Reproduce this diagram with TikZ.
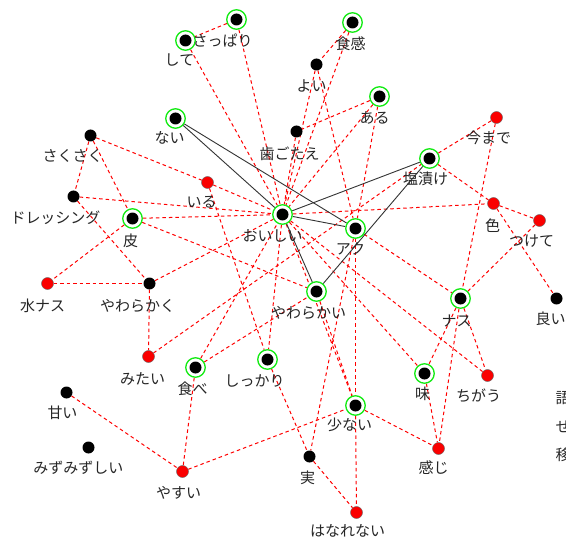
\documentclass[tikz,border=0pt]{standalone}
\usepackage{fontspec}
\newfontfamily\jp{Noto Sans CJK JP}
\usetikzlibrary{backgrounds}
\definecolor{ringgreen}{RGB}{20,235,20}
\definecolor{dotred}{RGB}{250,0,0}
\definecolor{linkred}{RGB}{255,0,0}
\begin{document}
\begin{tikzpicture}[x=1pt,y=-1pt,
  every node/.style={inner sep=0pt},
  gn/.style={circle, draw=ringgreen, line width=1.3pt, fill=white, minimum size=19.5pt,
    path picture={\fill[black] (path picture bounding box.center) circle (6pt);}},
  bn/.style={circle, fill=black, minimum size=12pt},
  rn/.style={circle, fill=dotred, draw=black!60, line width=0.4pt, minimum size=12pt},
  lbl/.style={font=\jp\fontsize{15}{15}\selectfont, text=black!85},
  co/.style={draw=linkred, line width=1pt, dash pattern=on 3.5pt off 3pt},
  st/.style={draw=black!80, line width=0.9pt}]
\useasboundingbox (0,0) rectangle (566,543);

% half-pixel shift keeps straight links on whole pixel rows
\begin{scope}[shift={(0.5,0.5)}]
% word nodes
\node[gn] (sappari) at (236,19) {};
\node[gn] (shite) at (185,40) {};
\node[gn] (shokkan) at (352,22) {};
\node[bn] (yoi) at (316,64) {};
\node[gn] (aru) at (379,96) {};
\node[rn] (imamade) at (496,117) {};
\node[gn] (shiozuke) at (429,158) {};
\node[bn] (hagotae) at (296,131) {};
\node[gn] (nai) at (175,118) {};
\node[bn] (sakusaku) at (90,135) {};
\node[rn] (iru) at (207,182) {};
\node[bn] (dressing) at (73,196) {};
\node[gn] (kawa) at (132,218) {};
\node[gn] (oishii) at (282,214) {};
\node[gn] (aku) at (355,228) {};
\node[rn] (iro) at (493,203) {};
\node[rn] (tsukete) at (539,220) {};
\node[bn] (yoi2) at (556,298) {};
\node[gn] (nasu) at (460,298) {};
\node[gn] (yawarakai) at (316,291) {};
\node[rn] (mizunasu) at (47,283) {};
\node[bn] (yawarakaku) at (149,283) {};
\node[rn] (mitai) at (148,356) {};
\node[gn] (tabe) at (195,367) {};
\node[gn] (shikkari) at (267,359) {};
\node[bn] (amai) at (66,392) {};
\node[bn] (mizumizu) at (88,447) {};
\node[rn] (yasui) at (182,471) {};
\node[bn] (mi) at (309,456) {};
\node[gn] (sukunai) at (355,405) {};
\node[gn] (aji) at (424,373) {};
\node[rn] (chigau) at (487,375) {};
\node[rn] (kanji) at (438,448) {};
\node[rn] (hanarenai) at (356,512) {};

% labels
\node[lbl] (sappari-l) at (222,40) {さっぱり};
\node[lbl] (shite-l) at (179,60) {して};
\node[lbl] (shokkan-l) at (350,43) {食感};
\node[lbl] (yoi-l) at (311,85) {よい};
\node[lbl] (aru-l) at (374,117) {ある};
\node[lbl] (imamade-l) at (488,137) {今まで};
\node[lbl] (shiozuke-l) at (425,178) {塩漬け};
\node[lbl] (hagotae-l) at (289,153) {歯ごたえ};
\node[lbl] (nai-l) at (169,137) {ない};
\node[lbl] (sakusaku-l) at (72,155) {さくさく};
\node[lbl] (iru-l) at (201,202) {いる};
\node[lbl] (dressing-l) at (55,217) {ドレッシング};
\node[lbl] (kawa-l) at (130,240) {皮};
\node[lbl] (oishii-l) at (272,235) {おいしい};
\node[lbl] (aku-l) at (350,248) {アク};
\node[lbl] (iro-l) at (492,225) {色};
\node[lbl] (tsukete-l) at (531,241) {つけて};
\node[lbl] (yoi2-l) at (550,318) {良い};
\node[lbl] (nasu-l) at (456,320) {ナス};
\node[lbl] (yawarakai-l) at (308,312) {やわらかい};
\node[lbl] (mizunasu-l) at (42,305) {水ナス};
\node[lbl] (yawarakaku-l) at (137,305) {やわらかく};
\node[lbl] (mitai-l) at (142,378) {みたい};
\node[lbl] (tabe-l) at (192,388) {食べ};
\node[lbl] (shikkari-l) at (254,380) {しっかり};
\node[lbl] (amai-l) at (62,412) {甘い};
\node[lbl] (mizumizu-l) at (78,467) {みずみずしい};
\node[lbl] (yasui-l) at (178,492) {やすい};
\node[lbl] (mi-l) at (307,477) {実};
\node[lbl] (sukunai-l) at (349,424) {少ない};
\node[lbl] (aji-l) at (422,393) {味};
\node[lbl] (chigau-l) at (478,395) {ちがう};
\node[lbl] (kanji-l) at (433,467) {感じ};
\node[lbl] (hanarenai-l) at (347,530) {はなれない};

% legend text running off the right edge
\node[lbl, anchor=west] (leg1) at (555,398) {語};
\node[lbl, anchor=west] (leg2) at (555,426) {せ};
\node[lbl, anchor=west] (leg3) at (555,454) {移};
\end{scope}

\begin{scope}[on background layer]
\fill[white] (0,0) rectangle (566,543);
% co-occurrence links
\draw[co] (sappari) -- (shite);
\draw[co] (shite) -- (oishii);
\draw[co] (sappari) -- (oishii);
\draw[co] (shokkan) -- (yoi);
\draw[co] (shokkan) -- (oishii);
\draw[co] (yoi) -- (oishii);
\draw[co] (yoi) -- (aku);
\draw[co] (aru) -- (hagotae);
\draw[co] (aru) -- (oishii);
\draw[co] (aru) -- (aku);
\draw[co] (hagotae) -- (oishii);
\draw[co] (imamade) -- (shiozuke);
\draw[co] (imamade) -- (nasu);
\draw[co] (shiozuke) -- (iro);
\draw[co] (iro) -- (tsukete);
\draw[co] (iro) -- (yoi2);
\draw[co] (oishii) -- (iro);
\draw[co] (sakusaku) -- (iru);
\draw[co] (iru) -- (oishii);
\draw[co] (sakusaku) -- (dressing);
\draw[co] (sakusaku) -- (kawa);
\draw[co] (dressing) -- (oishii);
\draw[co] (dressing) -- (yawarakaku);
\draw[co] (kawa) -- (oishii);
\draw[co] (kawa) -- (mizunasu);
\draw[co] (kawa) -- (yawarakai);
\draw[co] (mizunasu) -- (yawarakaku);
\draw[co] (yawarakaku) -- (mitai);
\draw[co] (yawarakaku) -- (oishii);
\draw[co] (mitai) -- (shiozuke);
\draw[co] (iru) -- (shikkari);
\draw[co] (oishii) -- (shikkari);
\draw[co] (shikkari) -- (mi);
\draw[co] (tabe) -- (yawarakai);
\draw[co] (tabe) -- (oishii);
\draw[co] (tabe) -- (yasui);
\draw[co] (amai) -- (yasui);
\draw[co] (yasui) -- (sukunai);
\draw[co] (aku) -- (sukunai);
\draw[co] (sukunai) -- (hanarenai);
\draw[co] (mi) -- (hanarenai);
\draw[co] (aku) -- (mi);
\draw[co] (yawarakai) -- (sukunai);
\draw[co] (oishii) -- (sukunai);
\draw[co] (sukunai) -- (kanji);
\draw[co] (aku) -- (nasu);
\draw[co] (nasu) -- (aji);
\draw[co] (nasu) -- (kanji);
\draw[co] (nasu) -- (chigau);
\draw[co] (nasu) -- (tsukete);
\draw[co] (aji) -- (kanji);
\draw[co] (oishii) -- (aji);
\draw[co] (oishii) -- (chigau);
% strongest links
\draw[st] (nai) -- (oishii);
\draw[st] (nai) -- (aku);
\draw[st] (oishii) -- (aku);
\draw[st] (oishii) -- (shiozuke);
\draw[st] (oishii) -- (yawarakai);
\draw[st] (shiozuke) -- (yawarakai);
\end{scope}
\end{tikzpicture}
\end{document}
